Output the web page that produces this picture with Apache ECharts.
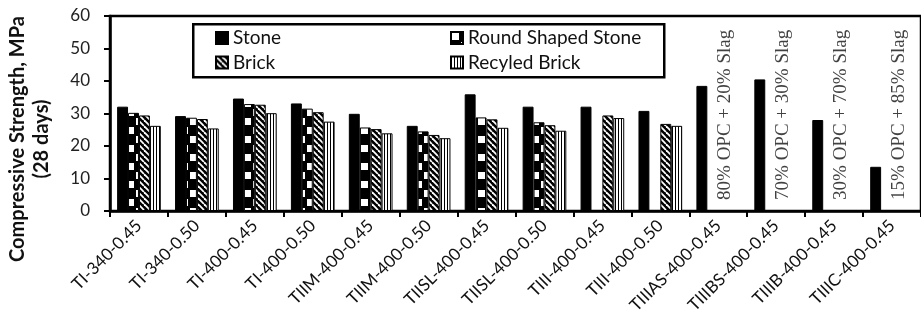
<!DOCTYPE html>
<html>
<head>
<meta charset="utf-8">
<script src="https://cdn.jsdelivr.net/npm/echarts@6/dist/echarts.min.js"></script>
<style>
  html, body { margin: 0; padding: 0; background: #fff; }
  #chart { width: 921px; height: 323px; }
</style>
</head>
<body>
<div id="chart"></div>
<script>
// Mix designations along the x axis
const categories = [
  'TI-340-0.45', 'TI-340-0.50', 'TI-400-0.45', 'TI-400-0.50',
  'TIIM-400-0.45', 'TIIM-400-0.50', 'TIISL-400-0.45', 'TIISL-400-0.50',
  'TIII-400-0.45', 'TIII-400-0.50', 'TIIIAS-400-0.45', 'TIIIBS-400-0.45',
  'TIIIB-400-0.45', 'TIIIC-400-0.45'
];

// 28-day compressive strength (MPa) by aggregate type
const stone      = [32.1, 29.2, 34.6, 33.1, 29.9, 26.2, 35.9, 32.1, 32.1, 30.8, 38.5, 40.5, 28.0, 13.6];
const roundStone = [30.2, 28.7, 32.9, 31.5, 25.7, 24.5, 28.8, 27.3, null, null, null, null, null, null];
const brick      = [29.4, 28.3, 32.7, 30.4, 25.2, 23.4, 28.2, 26.4, 29.4, 26.8, null, null, null, null];
const recycled   = [26.2, 25.4, 30.1, 27.5, 23.9, 22.4, 25.6, 24.7, 28.6, 26.2, null, null, null, null];

// Binder notes for the slag-cement mixes
const noteCategories = ['TIIIAS-400-0.45', 'TIIIBS-400-0.45', 'TIIIB-400-0.45', 'TIIIC-400-0.45'];
const noteTexts = ['80% OPC + 20% Slag', '70% OPC + 30% Slag', '30% OPC + 70% Slag', '15% OPC + 85% Slag'];
const noteBase = 3.4;

const yTicks = { min: 0, max: 60, interval: 10 };

// ---- fill patterns ----
function makeTile(w, h, draw) {
  const c = document.createElement('canvas');
  c.width = w; c.height = h;
  const ctx = c.getContext('2d');
  draw(ctx, w, h);
  return { image: c, repeat: 'repeat' };
}
const checkerFill = makeTile(18, 18, (ctx, w, h) => {
  ctx.fillStyle = '#000'; ctx.fillRect(0, 0, w, h);
  ctx.fillStyle = '#fff';
  ctx.fillRect(1, 1, 7, 7);
  ctx.fillRect(10, 10, 7, 7);
});
const diagFill = makeTile(6, 6, (ctx, w, h) => {
  ctx.fillStyle = '#000'; ctx.fillRect(0, 0, w, h);
  ctx.strokeStyle = '#fff'; ctx.lineWidth = 1.8;
  for (let k = -1; k <= 1; k++) {
    ctx.beginPath();
    ctx.moveTo(k * w, 0);
    ctx.lineTo(k * w + w, h);
    ctx.stroke();
  }
});
const vstripeFill = makeTile(3, 4, (ctx, w, h) => {
  ctx.fillStyle = '#fff'; ctx.fillRect(0, 0, w, h);
  ctx.fillStyle = '#000'; ctx.fillRect(0, 0, 1, h);
});

const chart = echarts.init(document.getElementById('chart'), null, { renderer: 'canvas' });

const labelFont = 'Lato, "DejaVu Sans", sans-serif';

function barSeries(name, data, fill) {
  return {
    name, type: 'bar', data,
    barGap: '0%', barCategoryGap: '24.6%',
    itemStyle: { color: fill, borderColor: '#000', borderWidth: 1 },
    emphasis: { disabled: true },
    animation: false
  };
}

const legendText = { fontFamily: labelFont, fontSize: 19, color: '#111', lineHeight: 20 };

chart.setOption({
  animation: false,
  grid: {
    left: 110, right: -7, top: 16, bottom: 112,
    show: true, borderColor: '#000', borderWidth: 2.5, backgroundColor: 'transparent'
  },
  legend: [
    {
      data: ['Stone', 'Brick'], orient: 'vertical', left: 215, top: 28, z: 10,
      icon: 'rect', itemWidth: 12, itemHeight: 12, itemGap: 4.5, padding: 0,
      textStyle: legendText, selectedMode: false
    },
    {
      data: ['Round Shaped Stone', 'Recyled Brick'], orient: 'vertical', left: 450, top: 28, z: 10,
      icon: 'rect', itemWidth: 12, itemHeight: 12, itemGap: 4.5, padding: 0,
      textStyle: legendText, selectedMode: false
    }
  ],
  xAxis: {
    type: 'category', data: categories,
    axisLine: { lineStyle: { color: '#000', width: 2.5 } },
    axisTick: { show: true, length: 6, lineStyle: { color: '#000', width: 2 } },
    axisLabel: {
      rotate: 45, margin: 12, interval: 0,
      fontFamily: labelFont, fontSize: 17, color: '#111'
    }
  },
  yAxis: {
    type: 'value', min: yTicks.min, max: yTicks.max, interval: yTicks.interval,
    splitLine: { show: false },
    axisLine: { show: true, lineStyle: { color: '#000', width: 2.5 } },
    axisTick: { show: true, length: 6, lineStyle: { color: '#000', width: 2 } },
    axisLabel: { margin: 20, fontFamily: labelFont, fontSize: 17, color: '#222' }
  },
  graphic: [
    {
      type: 'rect', left: 192, top: 23, z: 1,
      shape: { width: 471, height: 53 },
      style: { fill: '#fff', stroke: '#000', lineWidth: 2.5 }
    },
    {
      type: 'text', x: 30, y: 139, rotation: Math.PI / 2,
      style: {
        text: 'Compressive Strength, MPa\n(28 days)',
        font: 'bold 20px Lato, "DejaVu Sans", sans-serif',
        lineHeight: 24, align: 'center', verticalAlign: 'middle', fill: '#111'
      }
    }
  ],
  series: [
    barSeries('Stone', stone, '#000'),
    barSeries('Round Shaped Stone', roundStone, checkerFill),
    barSeries('Brick', brick, diagFill),
    barSeries('Recyled Brick', recycled, vstripeFill),
    {
      type: 'scatter', symbolSize: 0, silent: true, animation: false,
      data: noteCategories.map((c, i) => ({ value: [c, noteBase], name: noteTexts[i] })),
      label: {
        show: true, formatter: '{b}', position: 'inside', rotate: 90,
        align: 'left', verticalAlign: 'middle', offset: [0, 7],
        fontFamily: '"Liberation Serif", "Times New Roman", serif', fontSize: 19, color: '#111'
      }
    }
  ]
});
</script>
</body>
</html>
